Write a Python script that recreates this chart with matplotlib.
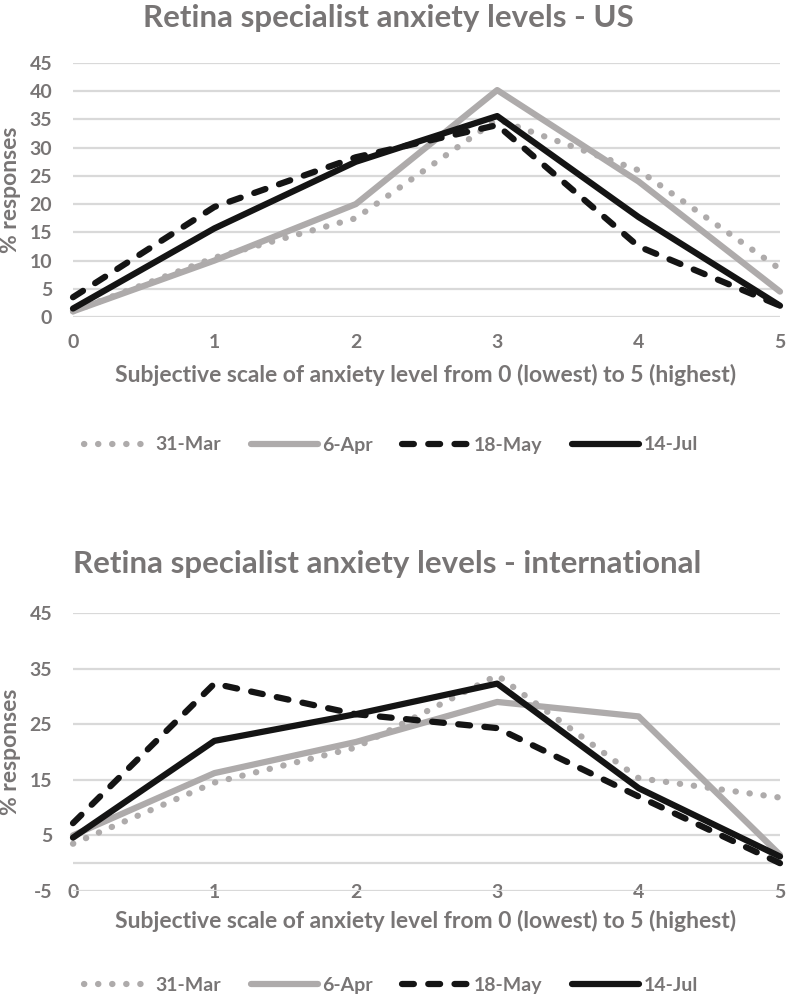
import matplotlib
matplotlib.use("Agg")
import matplotlib.pyplot as plt
import numpy as np

plt.rcParams['font.family'] = ['Lato', 'DejaVu Sans']
plt.rcParams['font.weight'] = 'bold'
plt.rcParams['axes.unicode_minus'] = False

# anxiety level scale
levels = [0, 1, 2, 3, 4, 5]
series_names = ['31-Mar', '6-Apr', '18-May', '14-Jul']

# US survey (% responses)
us_mar31 = [1.0, 10.5, 17.5, 35.0, 26.0, 8.5]
us_apr6 = [1.0, 10.0, 20.0, 40.2, 24.0, 4.5]
us_may18 = [3.5, 19.5, 28.3, 34.0, 12.5, 2.0]
us_jul14 = [1.5, 15.7, 27.5, 35.6, 17.7, 2.0]

# international survey (% responses)
int_mar31 = [3.5, 14.5, 20.8, 33.8, 15.3, 11.8]
int_apr6 = [5.0, 16.2, 21.8, 29.0, 26.4, 1.5]
int_may18 = [7.2, 32.3, 26.8, 24.3, 12.0, 0.0]
int_jul14 = [4.6, 22.0, 26.8, 32.3, 13.5, 1.2]

text_grey = '#787575'
line_grey = '#aeabab'
line_black = '#141414'
grid_col = '#d9d9d9'

LW = 4.5
styles = [
    dict(color=line_grey, lw=LW, linestyle=(0, (0.05, 2.2)), dash_capstyle='round', solid_capstyle='round'),
    dict(color=line_grey, lw=LW, linestyle='-', solid_capstyle='round'),
    dict(color=line_black, lw=LW, linestyle=(0, (1.9, 2.3)), dash_capstyle='round'),
    dict(color=line_black, lw=LW, linestyle='-', solid_capstyle='round'),
]

W, H = 786, 997
fig = plt.figure(figsize=(W / 100, H / 100), dpi=100)


def px_axes(left, top, right, bottom):
    return fig.add_axes([left / W, 1 - bottom / H, (right - left) / W, (bottom - top) / H])


def draw_panel(ax, data, yticks, ylim, xpad, extra_zero):
    for vals, st in zip(data, styles):
        ax.plot(levels, vals, clip_on=False, **st)
    ax.set_xlim(0, 5)
    ax.set_ylim(*ylim)
    ax.set_yticks(yticks)
    ax.set_xticks(levels)
    ax.yaxis.grid(True, color=grid_col, lw=1.6)
    ax.set_axisbelow(True)
    if extra_zero:
        ax.axhline(0, color=grid_col, lw=1.6, zorder=0)
    for s in ax.spines.values():
        s.set_visible(False)
    ax.tick_params(axis='both', length=0, labelsize=14, labelcolor=text_grey)
    ax.tick_params(axis='y', pad=15)
    ax.tick_params(axis='x', pad=xpad)


ax1 = px_axes(73, 63, 780, 317)
draw_panel(ax1, [us_mar31, us_apr6, us_may18, us_jul14],
           np.arange(0, 50, 5), (0, 45), 12, False)

ax2 = px_axes(73, 613, 780, 891)
draw_panel(ax2, [int_mar31, int_apr6, int_may18, int_jul14],
           np.arange(-5, 50, 10), (-5, 45), -5, True)

fig.text(388 / W, 1 - 18 / H, 'Retina specialist anxiety levels - US',
         ha='center', va='center', fontsize=22.5, color=text_grey)
fig.text(387 / W, 1 - 564 / H, 'Retina specialist anxiety levels - international',
         ha='center', va='center', fontsize=22.5, color=text_grey)

xlab = 'Subjective scale of anxiety level from 0 (lowest) to 5 (highest)'
fig.text(426 / W, 1 - 375 / H, xlab, ha='center', va='center', fontsize=16.5, color=text_grey)
fig.text(426 / W, 1 - 921 / H, xlab, ha='center', va='center', fontsize=16.5, color=text_grey)

fig.text(11 / W, 1 - 190 / H, '% responses', rotation=90, ha='center', va='center',
         fontsize=16.5, color=text_grey)
fig.text(11 / W, 1 - 752 / H, '% responses', rotation=90, ha='center', va='center',
         fontsize=16.5, color=text_grey)

handles = ax1.get_lines()[:4]
for ycen in (445, 985):
    fig.legend(handles, series_names, loc='center', bbox_to_anchor=(391 / W, 1 - ycen / H),
               ncol=4, frameon=False, fontsize=14, labelcolor=text_grey,
               handlelength=3.45, handletextpad=0.25, columnspacing=1.5)

fig.savefig('out.png', dpi=100)
